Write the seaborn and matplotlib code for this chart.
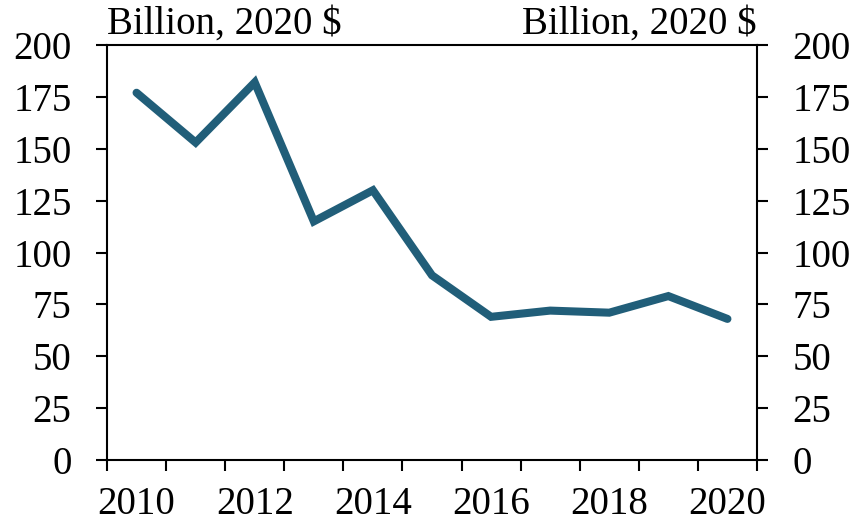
import matplotlib
matplotlib.use("Agg")
import matplotlib.pyplot as plt
import seaborn as sns
import pandas as pd

years = [2010, 2011, 2012, 2013, 2014, 2015, 2016, 2017, 2018, 2019, 2020]
values = [177, 153, 182, 115, 130, 89, 69, 72, 71, 79, 68]
yticks = [0, 25, 50, 75, 100, 125, 150, 175, 200]
xlabels = [2010, 2012, 2014, 2016, 2018, 2020]
unit_label = "Billion, 2020 $"

sns.set_theme(style="ticks")
plt.rcParams["font.family"] = ["Liberation Serif", "DejaVu Serif"]

df = pd.DataFrame({"year": years, "value": values})

fig = plt.figure(figsize=(8.54, 5.26), dpi=100)
ax = fig.add_axes([0.1253, 0.1255, 0.8864 - 0.1253, 0.9144 - 0.1255])
sns.lineplot(data=df, x="year", y="value", ax=ax, color="#215e79", linewidth=5.8,
             solid_capstyle="round", solid_joinstyle="miter")

ax.set_xlim(years[0] - 0.5, years[-1] + 0.5)
ax.set_ylim(0, 200)
ax.set_xlabel("")
ax.set_ylabel("")

# major ticks at category boundaries, labels at minor positions
ax.set_xticks([y - 0.5 for y in years] + [years[-1] + 0.5])
ax.set_xticklabels([])
ax.set_xticks(xlabels, minor=True)
ax.set_xticklabels([str(x) for x in xlabels], minor=True)
ax.tick_params(axis="x", which="major", direction="out", length=8, width=1.5, color="black")
ax.tick_params(axis="x", which="minor", length=0, pad=19, labelsize=28, labelcolor="black")

ax.set_yticks(yticks)
ax.set_yticklabels([str(t) for t in yticks])
ax.tick_params(axis="y", which="major", direction="out", length=8, width=1.5, color="black",
               labelsize=28, labelcolor="black", pad=17.5, left=True, right=True,
               labelleft=True, labelright=True)

for s in ["left", "right", "top", "bottom"]:
    ax.spines[s].set_visible(True)
    ax.spines[s].set_color("black")
    ax.spines[s].set_linewidth(1.5)

ax.text(0.0, 1.005, unit_label, transform=ax.transAxes, ha="left", va="bottom",
        fontsize=28, color="black")
ax.text(1.0, 1.005, unit_label, transform=ax.transAxes, ha="right", va="bottom",
        fontsize=28, color="black")

fig.savefig("out.png", dpi=100)
